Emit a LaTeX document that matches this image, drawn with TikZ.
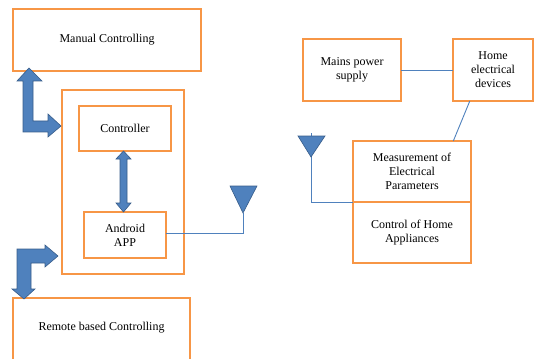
\documentclass[tikz,border=0pt]{standalone}
\usepackage{fontspec}
\setmainfont{Liberation Serif}
\usetikzlibrary{calc}
\definecolor{boxorange}{RGB}{247,150,70}
\definecolor{arrowblue}{RGB}{79,129,189}
\definecolor{arrowedge}{RGB}{56,93,138}

\begin{document}
\begin{tikzpicture}[x=1pt,y=-1pt,
    box/.style={draw=boxorange,line width=1.6pt,fill=white,inner sep=0pt,outer sep=0pt,
        align=center,font=\fontsize{12}{14}\selectfont},
    fat/.style={fill=arrowblue,draw=arrowedge,line width=0.6pt,line join=miter},
    wire/.style={draw=arrowblue,line width=0.9pt}]
    \useasboundingbox (0,0) rectangle (534,358);
    \node[box,minimum width=188pt,minimum height=62pt] (manual) at (107,40) {Manual Controlling};
    \node[box,minimum width=122pt,minimum height=184pt] (outer) at (123,182) {};
    \node[box,minimum width=92pt,minimum height=45pt] (controller) at (125,128.5) {Controller};
    \node[box,minimum width=82pt,minimum height=46pt] (android) at (125,235) {Android\\APP};
    \node[box,minimum width=177pt,minimum height=72pt] (remote) at (101.5,334) {};
    \node[font=\fontsize{12}{14}\selectfont] (remotetext) at (101.5,328) {Remote based Controlling};
    \node[box,minimum width=98pt,minimum height=62pt] (mains) at (352,70) {Mains power\\supply};
    \node[box,minimum width=80pt,minimum height=62pt] (home) at (493,70) {Home\\electrical\\devices};
    \node[box,minimum width=118pt,minimum height=61pt] (measA) at (412,171.5) {Measurement of\\Electrical\\Parameters};
    \node[box,minimum width=118pt,minimum height=61pt] (measB) at (412,232.5) {Control of Home\\Appliances};

    \coordinate (ant1) at (243,213);
    \coordinate (ant2) at (311,157);

    \draw[wire] (mains.east) -- (home.west);
    \draw[wire] ($(home.south west)!0.21!(home.south east)$) -- ($(measA.north west)!0.85!(measA.north east)$);
    \draw[wire] ([yshift=2pt]android.east) -| (ant1);
    \draw[wire] (ant2) -- ++(0,-24);
    \draw[wire] (ant2) |- (measB.north west);
    \draw[fat] (ant1) -- ++(-13,-27) -- ++(27,0) -- cycle;
    \draw[fat] (ant2) -- ++(-13,-21) -- ++(27,0) -- cycle;

    \draw[fat] (29,68) -- (42,81) -- (33,81) -- (33,121) -- (48,121) -- (48,114) -- (61,126)
        -- (48,137) -- (48,132) -- (23,132) -- (23,81) -- (17,81) -- cycle;
    \draw[fat] (24,299) -- (35,289) -- (31,289) -- (31,263) -- (45,263) -- (45,267) -- (58,256)
        -- (45,245) -- (45,249) -- (17,249) -- (17,289) -- (12,289) -- cycle;
    \draw[fat] (123.5,151) -- (131,159) -- (127,159) -- (127,203) -- (131,203) -- (123.5,212)
        -- (116,203) -- (120,203) -- (120,159) -- (116,159) -- cycle;
\end{tikzpicture}
\end{document}
